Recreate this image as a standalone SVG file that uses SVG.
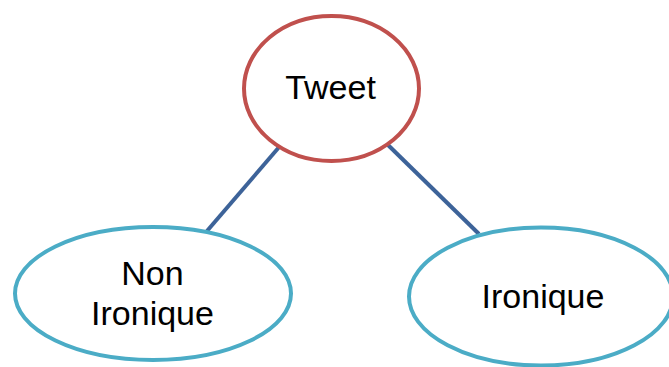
<svg xmlns="http://www.w3.org/2000/svg" width="669" height="367" viewBox="0 0 669 367">
<style>
.lbl{font-family:"Liberation Sans",Arial,sans-serif;font-size:34px;fill:#000;text-anchor:middle}
.edge{stroke:#3D6399;stroke-width:4;fill:none}
.root{fill:#fff;stroke:#C0504D;stroke-width:4}
.leaf{fill:#fff;stroke:#4BACC6;stroke-width:4}
</style>
<rect width="669" height="367" fill="#fff"/>
<g id="connectors">
<line class="edge" x1="280" y1="146" x2="207" y2="231"/>
<line class="edge" x1="387" y1="144" x2="479" y2="234"/>
</g>
<g id="node-tweet">
<ellipse class="root" cx="331.5" cy="88.5" rx="87.5" ry="72.5"/>
<text class="lbl" x="330.5" y="99">Tweet</text>
</g>
<g id="node-non-ironique">
<ellipse class="leaf" cx="153" cy="293.5" rx="138" ry="66.5"/>
<text class="lbl" x="152.5" y="285">Non</text>
<text class="lbl" x="152.5" y="325">Ironique</text>
</g>
<g id="node-ironique">
<ellipse class="leaf" cx="541" cy="296.5" rx="132" ry="69"/>
<text class="lbl" x="543" y="308">Ironique</text>
</g>
</svg>
